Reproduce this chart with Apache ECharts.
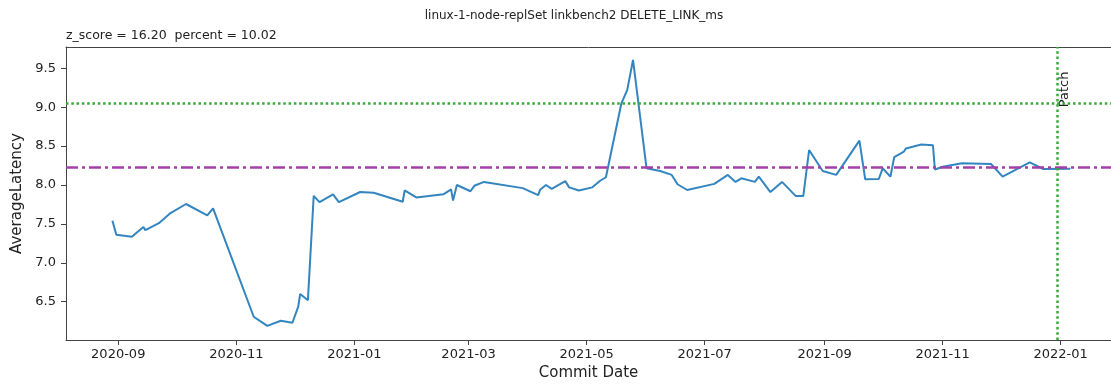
<!DOCTYPE html>
<html>
<head>
<meta charset="utf-8">
<script src="https://cdn.jsdelivr.net/npm/echarts@6/dist/echarts.min.js"></script>
<style>
  html, body { margin: 0; padding: 0; background: #fff; }
  #chart { width: 1111px; height: 387px; }
</style>
</head>
<body>
<div id="chart"></div>
<script>
// Commit dates and the average DELETE_LINK latency (ms) measured at each one.
const commitDates = [
  '2020-08-29', '2020-08-31', '2020-09-08', '2020-09-14', '2020-09-15', '2020-09-22',
  '2020-09-28', '2020-10-06', '2020-10-17', '2020-10-20', '2020-11-10', '2020-11-17',
  '2020-11-24', '2020-11-30', '2020-12-03', '2020-12-04', '2020-12-08', '2020-12-11',
  '2020-12-14', '2020-12-21', '2020-12-24', '2021-01-04', '2021-01-11', '2021-01-26',
  '2021-01-27', '2021-02-02', '2021-02-16', '2021-02-20', '2021-02-21', '2021-02-23',
  '2021-03-02', '2021-03-04', '2021-03-09', '2021-03-29', '2021-04-06', '2021-04-07',
  '2021-04-10', '2021-04-13', '2021-04-20', '2021-04-22', '2021-04-27', '2021-05-04',
  '2021-05-08', '2021-05-11', '2021-05-19', '2021-05-22', '2021-05-25', '2021-06-01',
  '2021-06-08', '2021-06-14', '2021-06-17', '2021-06-22', '2021-07-06', '2021-07-13',
  '2021-07-17', '2021-07-20', '2021-07-27', '2021-07-29', '2021-08-04', '2021-08-10',
  '2021-08-17', '2021-08-21', '2021-08-24', '2021-08-31', '2021-09-07', '2021-09-19',
  '2021-09-22', '2021-09-29', '2021-10-01', '2021-10-05', '2021-10-07', '2021-10-12',
  '2021-10-13', '2021-10-14', '2021-10-21', '2021-10-27', '2021-10-28', '2021-11-01',
  '2021-11-11', '2021-11-26', '2021-12-02', '2021-12-16', '2021-12-23', '2022-01-06'
];
const avgLatency = [
  7.54, 7.36, 7.335, 7.46, 7.42, 7.51,
  7.64, 7.756, 7.61, 7.70, 6.307, 6.19,
  6.256, 6.23, 6.436, 6.60, 6.52, 7.86,
  7.78, 7.88, 7.78, 7.91, 7.90, 7.785,
  7.93, 7.84, 7.88, 7.945, 7.80, 8.00,
  7.92, 7.99, 8.04, 7.96, 7.87, 7.94,
  8.00, 7.95, 8.05, 7.97, 7.93, 7.97,
  8.055, 8.10, 9.05, 9.22, 9.607, 8.215,
  8.18, 8.13, 8.01, 7.936, 8.015, 8.13,
  8.04, 8.086, 8.04, 8.107, 7.91, 8.04,
  7.86, 7.86, 8.45, 8.18, 8.13, 8.57,
  8.073, 8.077, 8.215, 8.107, 8.36, 8.43,
  8.47, 8.45, 8.52, 8.51, 8.20, 8.235,
  8.28, 8.27, 8.107, 8.29, 8.206, 8.21
];

// Reference levels and the patch commit.
const meanLatency = 8.235;
const upperLatency = 9.048;
const patchDate = '2021-12-30';
const patchLabelLevel = 9.0;

// Axis ranges and tick labels.
const xRange = ['2020-08-05', '2022-01-27'];
const yRange = [6.008, 9.774];
const xTickLabels = ['2020-09', '2020-11', '2021-01', '2021-03', '2021-05',
                     '2021-07', '2021-09', '2021-11', '2022-01'];
const yTickValues = [6.5, 7.0, 7.5, 8.0, 8.5, 9.0, 9.5];

const chartTitle = 'linux-1-node-replSet linkbench2 DELETE_LINK_ms';
const subTitle = 'z_score = 16.20  percent = 10.02';

// Dates become UTC millisecond timestamps on a linear value axis.
function toTime(s) {
  const p = s.split('-').map(Number);
  return Date.UTC(p[0], p[1] - 1, p[2] || 1);
}

const xTickTimes = xTickLabels.map(toTime);
const points = commitDates.map((d, i) => [toTime(d), avgLatency[i]]);

const FONT = 'DejaVu Sans';
const AXIS = '#444';
const TEXT = '#222';
const GREEN = '#3aa83a';
const dotted = { color: GREEN, width: 2.5, type: [2.5, 2.8] };

const chart = echarts.init(document.getElementById('chart'), null, { renderer: 'canvas' });

const titleGraphics = [
  { type: 'text', id: 'title', x: 574, y: 16,
    style: { text: chartTitle, fill: TEXT, font: '12px "DejaVu Sans"',
             textAlign: 'center', textVerticalAlign: 'middle' } },
  { type: 'text', id: 'subtitle', x: 66, y: 36,
    style: { text: subTitle, fill: TEXT, font: '12.5px "DejaVu Sans"',
             textAlign: 'left', textVerticalAlign: 'middle' } }
];

const xBase = {
  type: 'value',
  min: toTime(xRange[0]),
  max: toTime(xRange[1]),
  scale: true,
  splitLine: { show: false }
};

chart.setOption({
  animation: false,
  backgroundColor: '#fff',
  textStyle: { fontFamily: FONT },
  grid: { left: 66, right: 0, top: 47, bottom: 47, show: false },
  xAxis: [
    Object.assign({}, xBase, {
      position: 'bottom',
      axisLine: { show: true, lineStyle: { color: AXIS, width: 1 } },
      axisTick: { show: true, inside: false, length: 5, customValues: xTickTimes,
                  lineStyle: { color: AXIS, width: 1 } },
      axisLabel: {
        customValues: xTickTimes,
        color: TEXT, fontSize: 13, fontFamily: FONT, margin: 8, hideOverlap: false,
        formatter: v => {
          const i = xTickTimes.indexOf(Number(v));
          return i >= 0 ? xTickLabels[i] : '';
        }
      },
      name: 'Commit Date',
      nameLocation: 'middle',
      nameGap: 26,
      nameTextStyle: { color: TEXT, fontSize: 15, fontFamily: FONT }
    }),
    // top frame edge
    Object.assign({}, xBase, {
      position: 'top',
      axisLine: { show: true, onZero: false, lineStyle: { color: AXIS, width: 1 } },
      axisTick: { show: false },
      axisLabel: { show: false }
    })
  ],
  yAxis: {
    type: 'value',
    min: yRange[0],
    max: yRange[1],
    splitLine: { show: false },
    axisLine: { show: true, onZero: false, lineStyle: { color: AXIS, width: 1 } },
    axisTick: { show: true, inside: false, length: 5, customValues: yTickValues,
                lineStyle: { color: AXIS, width: 1 } },
    axisLabel: {
      customValues: yTickValues,
      color: TEXT, fontSize: 13, fontFamily: FONT, margin: 10,
      formatter: v => Number(v).toFixed(1)
    },
    name: 'AverageLatency',
    nameLocation: 'middle',
    nameGap: 38,
    nameRotate: 90,
    nameTextStyle: { color: TEXT, fontSize: 15, fontFamily: FONT }
  },
  series: [{
    type: 'line',
    xAxisIndex: 0,
    data: points,
    showSymbol: false,
    symbol: 'none',
    lineStyle: { color: '#3385c0', width: 2 },
    itemStyle: { color: '#3385c0' },
    markLine: {
      silent: true,
      symbol: ['none', 'none'],
      label: { show: false },
      animation: false,
      data: [
        { yAxis: meanLatency, lineStyle: { color: '#a43fa8', width: 2.5, type: [12, 4, 3, 4] } },
        { yAxis: upperLatency, lineStyle: dotted },
        { xAxis: toTime(patchDate), lineStyle: dotted }
      ]
    }
  }],
  graphic: titleGraphics
});

// "Patch" label placed beside the patch line, reading bottom-to-top.
const anchor = chart.convertToPixel({ xAxisIndex: 0, yAxisIndex: 0 },
                                    [toTime(patchDate), patchLabelLevel]);
chart.setOption({
  graphic: titleGraphics.concat([
    { type: 'text', id: 'patch', x: anchor[0] + 1, y: anchor[1], rotation: Math.PI / 2,
      style: { text: 'Patch', fill: TEXT, font: '13px "DejaVu Sans"',
               textAlign: 'left', textVerticalAlign: 'top' } }
  ])
});
</script>
</body>
</html>
